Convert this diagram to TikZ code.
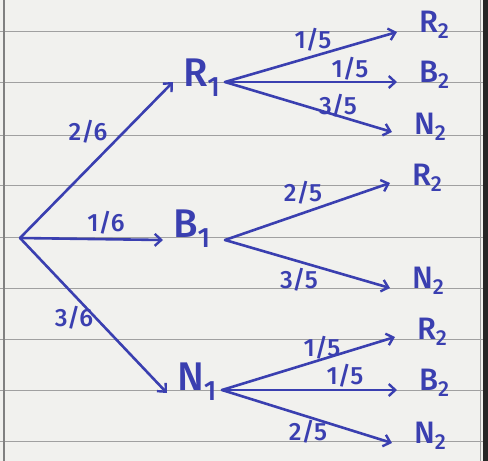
\documentclass[tikz,border=0pt]{standalone}
\usepackage{fontspec}
\setmainfont{Fira Sans}[BoldFont={Fira Sans Medium}]
\usetikzlibrary{arrows.meta}
\definecolor{ink}{HTML}{3A3FB0}
\definecolor{paper}{HTML}{F1F1EE}
\definecolor{rule}{HTML}{A0A0A0}
\begin{document}
\begin{tikzpicture}[x=1pt,y=-1pt,
  arr/.style={draw=ink, line width=2.6pt, line cap=round,
    -{Straight Barb[length=6.5pt,width=12pt,line width=2.4pt]}},
  lvlone/.style={text=ink, font=\fontsize{40}{40}\selectfont\bfseries, inner xsep=10pt, inner ysep=0pt, outer sep=0pt, anchor=base west},
  lvltwo/.style={text=ink, font=\fontsize{31}{31}\selectfont\bfseries, inner xsep=22pt, inner ysep=0pt, outer sep=0pt, anchor=base west},
  frac/.style={text=ink, font=\fontsize{25}{25}\selectfont\bfseries, inner sep=0pt},
  ruled/.style={draw=rule, line width=1pt}]
% paper
\fill[paper] (0,0) rectangle (488,461);
\useasboundingbox (0,0) rectangle (488,461);
\foreach \yy in {31.7,82.7,135,185.7,237.3,288.3,339,390.7,441.7}
  \draw[ruled] (0,\yy) -- (488,\yy);
\draw[draw=rule!80!black, line width=1.2pt] (4,0) -- (4,461);
\draw[draw=rule, line width=1pt] (480,0) -- (480,461);
\fill[black!85] (483,0) rectangle (488,461);

% root
\coordinate (root) at (20,238);

% first level
\node[lvlone] (R1) at (173,86) {R\textsubscript{1}};
\node[lvlone] (B1) at (163,237) {B\textsubscript{1}};
\node[lvlone] (N1) at (167,390) {N\textsubscript{1}};

\draw[arr] (root) -- ([yshift=4pt]R1.base west);
\draw[arr] (root) -- ([yshift=-3pt]B1.base west);
\draw[arr] (root) -- ([yshift=-3pt]N1.base west);

\node[frac] (f26) at (88,132) {2/6};
\node[frac] (f16) at (106,223) {1/6};
\node[frac] (f36) at (74,318) {3/6};

% second level from R1
\node[lvltwo] (R1R2) at (397,32) {R\textsubscript{2}};
\node[lvltwo] (R1B2) at (397,82) {B\textsubscript{2}};
\node[lvltwo] (R1N2) at (392,134) {N\textsubscript{2}};
\coordinate (R1o) at (225,82);
\draw[arr] (R1o) -- (R1R2.base west);
\draw[arr] (R1o) -- (R1B2.base west);
\draw[arr] (R1o) -- ([yshift=2pt]R1N2.base west);
\node[frac] (fa1) at (313,40) {1/5};
\node[frac] (fa2) at (350,69) {1/5};
\node[frac] (fa3) at (338,106) {3/5};

% second level from B1
\node[lvltwo] (B1R2) at (390,185) {R\textsubscript{2}};
\node[lvltwo] (B1N2) at (390,288) {N\textsubscript{2}};
\coordinate (B1o) at (225,240);
\draw[arr] (B1o) -- ([yshift=2pt]B1R2.base west);
\draw[arr] (B1o) -- (B1N2.base west);
\node[frac] (fb1) at (303,193) {2/5};
\node[frac] (fb2) at (299,280) {3/5};

% second level from N1
\node[lvltwo] (N1R2) at (395,339) {R\textsubscript{2}};
\node[lvltwo] (N1B2) at (397,390) {B\textsubscript{2}};
\node[lvltwo] (N1N2) at (392,443) {N\textsubscript{2}};
\coordinate (N1o) at (222,390);
\draw[arr] (N1o) -- ([yshift=2pt]N1R2.base west);
\draw[arr] (N1o) -- (N1B2.base west);
\draw[arr] (N1o) -- (N1N2.base west);
\node[frac] (fc1) at (322,348) {1/5};
\node[frac] (fc2) at (345,376) {1/5};
\node[frac] (fc3) at (308,432) {2/5};
\end{tikzpicture}
\end{document}
